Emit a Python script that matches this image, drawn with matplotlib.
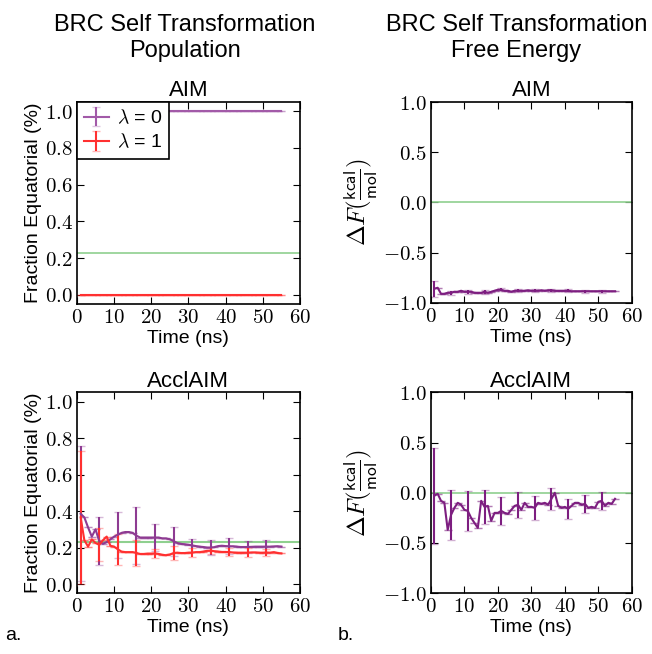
import numpy as np
import matplotlib.pyplot as plt
from matplotlib.ticker import FuncFormatter, MultipleLocator

plt.rcParams['font.family'] = ['Liberation Sans', 'DejaVu Sans']
plt.rcParams['mathtext.fontset'] = 'cm'

# -----------------------------
# Data
# -----------------------------
time_ns = np.arange(1, 56)
err_idx = np.arange(0, 55, 5)   # error bars shown at t = 1, 6, 11, ...

ref_population = 0.228
ref_free_energy = 0.0

# AIM population
aim_pop_l0 = [1.0] * 55
aim_pop_l1 = [0.0] * 55

# AcclAIM population
accl_pop_l0 = [0.385, 0.365, 0.31, 0.26, 0.30, 0.235, 0.22, 0.23, 0.245, 0.26,
               0.27, 0.28, 0.285, 0.285, 0.28, 0.265, 0.255, 0.255, 0.255, 0.255,
               0.255, 0.255, 0.25, 0.25, 0.245, 0.235, 0.225, 0.22, 0.218, 0.215,
               0.212, 0.208, 0.205, 0.203, 0.20, 0.20, 0.202, 0.208, 0.21, 0.208,
               0.207, 0.207, 0.205, 0.203, 0.203, 0.203, 0.204, 0.205, 0.205, 0.205,
               0.205, 0.205, 0.206, 0.207, 0.205]
accl_pop_l0_err = [0.37, 0.13, 0.125, 0.155, 0.075, 0.08, 0.035, 0.04, 0.045, 0.035, 0.035]

accl_pop_l1 = [0.365, 0.24, 0.205, 0.245, 0.225, 0.215, 0.24, 0.26, 0.21, 0.205,
               0.19, 0.178, 0.175, 0.175, 0.175, 0.17, 0.165, 0.165, 0.167, 0.167,
               0.168, 0.165, 0.16, 0.158, 0.162, 0.17, 0.172, 0.17, 0.17, 0.172,
               0.172, 0.175, 0.175, 0.178, 0.182, 0.183, 0.18, 0.178, 0.176, 0.176,
               0.175, 0.173, 0.172, 0.172, 0.172, 0.172, 0.173, 0.173, 0.172, 0.172,
               0.173, 0.172, 0.175, 0.17, 0.168]
accl_pop_l1_err = [0.365, 0.09, 0.085, 0.07, 0.025, 0.04, 0.025, 0.02, 0.02, 0.025, 0.02]

# AIM free energy
aim_dF = [-0.86, -0.85, -0.91, -0.91, -0.90, -0.90, -0.89, -0.89, -0.88, -0.89,
          -0.89, -0.89, -0.90, -0.90, -0.90, -0.89, -0.90, -0.89, -0.88, -0.87,
          -0.87, -0.88, -0.88, -0.89, -0.88, -0.88, -0.88, -0.88, -0.875, -0.88,
          -0.88, -0.88, -0.875, -0.88, -0.875, -0.875, -0.88, -0.88, -0.88, -0.88,
          -0.88, -0.885, -0.885, -0.885, -0.885, -0.885, -0.885, -0.885, -0.885, -0.885,
          -0.885, -0.885, -0.885, -0.885, -0.885]
aim_dF_err = [0.08, 0.02, 0.02, 0.02, 0.015, 0.015, 0.015, 0.015, 0.015, 0.015, 0.015]

# AcclAIM free energy
accl_dF = [-0.03, -0.01, -0.08, -0.10, -0.37, -0.22, -0.15, -0.10, -0.12, -0.17,
           -0.18, -0.25, -0.30, -0.35, -0.08, -0.14, -0.13, -0.28, -0.20, -0.20,
           -0.18, -0.20, -0.21, -0.17, -0.13, -0.12, -0.17, -0.10, -0.14, -0.14,
           -0.15, -0.10, -0.11, -0.10, -0.12, -0.06, 0.0, -0.13, -0.15, -0.14,
           -0.16, -0.13, -0.10, -0.10, -0.12, -0.11, -0.15, -0.14, -0.15, -0.09,
           -0.08, -0.13, -0.10, -0.11, -0.06]
accl_dF_err = [0.48, 0.25, 0.2, 0.17, 0.14, 0.13, 0.12, 0.11, 0.1, 0.09, 0.09]

# colors
purple_light = '#a25aa8'
purple = '#8e3b92'
purple_dark = '#7d1e80'
red = '#ff3030'
green = '#8fd08f'

label_fs = 14
tick_fs = 15
title_fs = 16


def full_err(err):
    e = np.zeros(len(time_ns))
    e[err_idx] = err
    return e


def err_plot(ax, y, err, color, label=None):
    cont = ax.errorbar(time_ns, y, yerr=full_err(err), color=color, lw=1.5,
                       elinewidth=1.5, capsize=3, capthick=1, label=label)
    for cap in cont[1]:
        cap.set_alpha(0.35)
    return cont


def style_axes(ax, ylim, ystep):
    ax.set_xlim(0, 60)
    ax.set_ylim(*ylim)
    ax.xaxis.set_major_locator(MultipleLocator(10))
    ax.yaxis.set_major_locator(MultipleLocator(ystep))
    ax.xaxis.set_major_formatter(FuncFormatter(lambda v, p: f'${v:g}$'))
    ax.yaxis.set_major_formatter(FuncFormatter(lambda v, p: f'${v:.1f}$'))
    ax.tick_params(direction='in', top=True, right=True, length=5,
                   labelsize=tick_fs, pad=3)
    ax.set_xlabel('Time (ns)', fontsize=label_fs, labelpad=2)
    for s in ax.spines.values():
        s.set_linewidth(1.2)


fig = plt.figure(figsize=(6.52, 6.54), dpi=100)

ax1 = fig.add_axes([0.118, 0.535, 0.342, 0.309])
ax2 = fig.add_axes([0.661, 0.537, 0.308, 0.307])
ax3 = fig.add_axes([0.118, 0.093, 0.342, 0.307])
ax4 = fig.add_axes([0.661, 0.093, 0.308, 0.307])

dF_label = r'$\Delta F(\frac{\mathsf{kcal}}{\mathsf{mol}})$'

# Population - AIM
ax1.axhline(ref_population, color=green, lw=1.2)
err_plot(ax1, aim_pop_l0, [0] * 11, purple_light, r'$\lambda$ = 0')
err_plot(ax1, aim_pop_l1, [0] * 11, red, r'$\lambda$ = 1')
style_axes(ax1, (-0.05, 1.05), 0.2)
ax1.set_title('AIM', fontsize=title_fs, pad=4)
ax1.set_ylabel('Fraction Equatorial (%)', fontsize=label_fs, labelpad=2)
leg = ax1.legend(loc='upper left', fontsize=14, fancybox=False, framealpha=1,
                 borderaxespad=0, handlelength=1.3, handletextpad=0.4,
                 borderpad=0.35, labelspacing=0.3)
leg.get_frame().set_edgecolor('black')
leg.get_frame().set_linewidth(1.2)

# Population - AcclAIM
ax3.axhline(ref_population, color=green, lw=1.5)
err_plot(ax3, accl_pop_l0, accl_pop_l0_err, purple)
err_plot(ax3, accl_pop_l1, accl_pop_l1_err, red)
style_axes(ax3, (-0.05, 1.05), 0.2)
ax3.set_title('AcclAIM', fontsize=title_fs, pad=4)
ax3.set_ylabel('Fraction Equatorial (%)', fontsize=label_fs, labelpad=2)

# Free energy - AIM
ax2.axhline(ref_free_energy, color=green, lw=1.2)
err_plot(ax2, aim_dF, aim_dF_err, purple_dark)
style_axes(ax2, (-1.0, 1.0), 0.5)
ax2.set_title('AIM', fontsize=title_fs, pad=4)
ax2.set_ylabel(dF_label, fontsize=18, labelpad=2)

# Free energy - AcclAIM
ax4.axhline(ref_free_energy, color=green, lw=1.2)
err_plot(ax4, accl_dF, accl_dF_err, purple_dark)
style_axes(ax4, (-1.0, 1.0), 0.5)
ax4.set_title('AcclAIM', fontsize=title_fs, pad=4)
ax4.set_ylabel(dF_label, fontsize=18, labelpad=2)

fig.text(0.284, 0.978, 'BRC Self Transformation\nPopulation', ha='center',
         va='top', fontsize=17, linespacing=1.2)
fig.text(0.792, 0.978, 'BRC Self Transformation\nFree Energy', ha='center',
         va='top', fontsize=17, linespacing=1.2)
fig.text(0.008, 0.022, 'a.', fontsize=14)
fig.text(0.518, 0.022, 'b.', fontsize=14)

plt.savefig('out.png', dpi=100)
